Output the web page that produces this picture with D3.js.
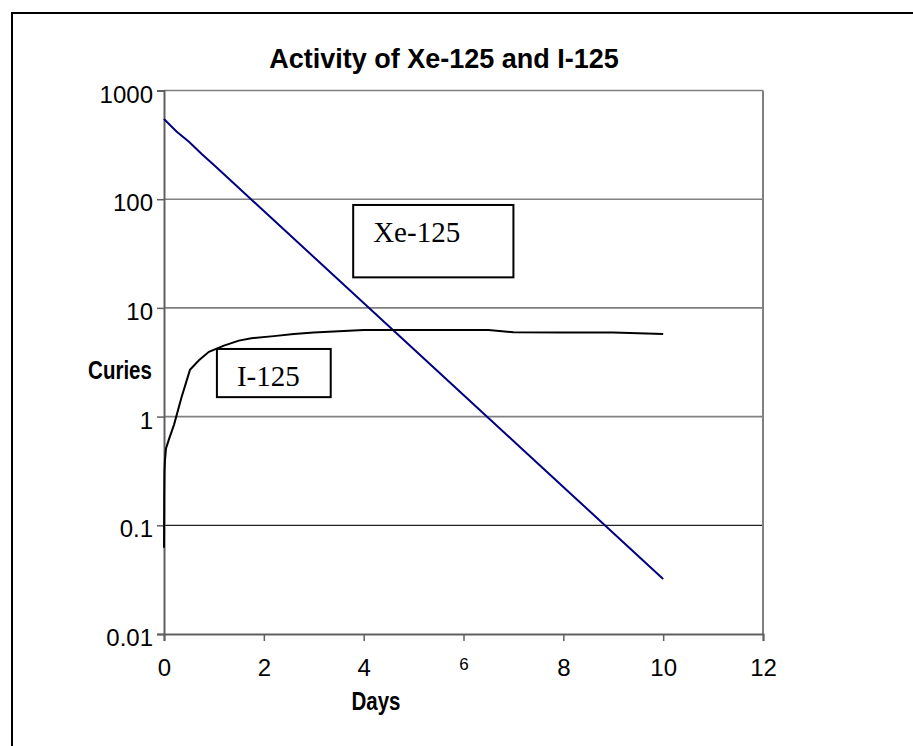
<!DOCTYPE html>
<html>
<head>
<meta charset="utf-8">
<script src="https://cdn.jsdelivr.net/npm/d3@7"></script>
<style>
  body { margin: 0; background: #fff; }
  svg { display: block; }
</style>
</head>
<body>
<div id="chart"></div>
<script>
// data
const xeDays   = [0, 0.25, 0.5, 0.75, 1, 1.5, 2, 3, 4, 5, 6, 7, 8, 9, 10];
const xeCuries = [546, 420, 338, 262, 206, 127, 77.8, 29.4, 11.1, 4.19, 1.58, 0.597, 0.225, 0.0851, 0.0321];

const iDays   = [0, 0.005, 0.01, 0.02, 0.04, 0.1, 0.2, 0.35, 0.52, 0.7, 0.9, 1.2, 1.5, 1.75, 2.2, 2.6, 3, 3.5, 4, 5, 6, 6.5, 7, 8, 9, 10];
const iCuries = [0.062, 0.2, 0.32, 0.4, 0.51, 0.62, 0.84, 1.5, 2.69, 3.3, 3.95, 4.5, 5.0, 5.25, 5.5, 5.75, 5.95, 6.1, 6.25, 6.25, 6.25, 6.27, 5.97, 5.95, 5.95, 5.75];

const xTicks = [0, 2, 4, 6, 8, 10, 12];
const yTicks = [0.01, 0.1, 1, 10, 100, 1000];

// label boxes, in data units [x0, x1, yTop, yBottom]
const xeBox = [3.79, 7.0, 88.5, 19.1];
const iBox  = [1.06, 3.34, 4.19, 1.51];

const W = 913, H = 746;

let svg = d3.select("#chart").append("svg")
    .attr("width", W)
    .attr("height", H)
    .style("font-family", "'Liberation Sans', Arial, sans-serif");

// outer frame (only top and left edges show)
svg.append("path")
    .attr("d", `M12,${H}V13H${W}`)
    .attr("fill", "none")
    .attr("stroke", "#000")
    .attr("stroke-width", 2);

let x = d3.scaleLinear().domain([0, 12]).range([164, 763]);
let y = d3.scaleLog().domain([0.01, 1000]).range([634, 90.5]);

// gridlines
svg.append("g").selectAll("line")
    .data(yTicks.slice(1))
    .join("line")
    .attr("x1", x(0)).attr("x2", x(12))
    .attr("y1", d => y(d)).attr("y2", d => y(d))
    .attr("stroke", d => d === 0.1 ? "#222" : "#808080")
    .attr("stroke-width", d => d === 0.1 ? 1.2 : 1.6);

// right border of plot
svg.append("line")
    .attr("x1", x(12)).attr("x2", x(12))
    .attr("y1", y(1000)).attr("y2", y(0.01))
    .attr("stroke", "#808080").attr("stroke-width", 2);

// axes
let yAxis = svg.append("g")
    .attr("transform", `translate(${x(0)},0)`)
    .call(d3.axisLeft(y).tickValues(yTicks).tickFormat(d => String(d)).tickSize(7).tickPadding(4));
let xAxis = svg.append("g")
    .attr("transform", `translate(0,${y(0.01)})`)
    .call(d3.axisBottom(x).tickValues(xTicks).tickSize(7).tickPadding(15));

[yAxis, xAxis].forEach(a => {
    a.select(".domain").attr("stroke", "#606060").attr("stroke-width", 2);
    a.selectAll(".tick line").attr("stroke", "#606060").attr("stroke-width", 1.5);
    a.selectAll("text")
        .attr("fill", "#000")
        .style("font-family", "'Liberation Sans', Arial, sans-serif")
        .style("font-size", "24px");
});
yAxis.selectAll(".tick text").attr("dy", "0.48em");
xAxis.selectAll(".tick text").attr("dy", "0.82em");
// the "6" label is smaller and sits higher in the original
xAxis.selectAll(".tick text").filter(d => d === 6)
    .style("font-size", "17px")
    .attr("dy", "0.85em");

// series
let line = d3.line().x(d => x(d[0])).y(d => y(d[1]));

svg.append("path")
    .datum(d3.zip(xeDays, xeCuries))
    .attr("d", line)
    .attr("fill", "none")
    .attr("stroke", "#000080")
    .attr("stroke-width", 2);

svg.append("path")
    .datum(d3.zip(iDays, iCuries))
    .attr("d", line)
    .attr("fill", "none")
    .attr("stroke", "#000")
    .attr("stroke-width", 2);

// label boxes
function labelBox(b) {
    let g = svg.append("g");
    g.append("rect")
        .attr("x", x(b[0])).attr("y", y(b[2]))
        .attr("width", x(b[1]) - x(b[0]))
        .attr("height", y(b[3]) - y(b[2]))
        .attr("fill", "#fff")
        .attr("stroke", "#000")
        .attr("stroke-width", 2);
    return g;
}
labelBox(xeBox).append("text")
    .attr("x", x(xeBox[0]) + 20)
    .attr("y", y(xeBox[2]) + 37)
    .style("font-family", "'Liberation Serif', 'Times New Roman', serif")
    .style("font-size", "29px")
    .text("Xe-125");
labelBox(iBox).append("text")
    .attr("x", x(iBox[0]) + 20)
    .attr("y", y(iBox[2]) + 37)
    .style("font-family", "'Liberation Serif', 'Times New Roman', serif")
    .style("font-size", "29px")
    .text("I-125");

// titles
svg.append("text")
    .attr("x", 444).attr("y", 68)
    .attr("text-anchor", "middle")
    .style("font-weight", "bold")
    .style("font-size", "27px")
    .text("Activity of Xe-125 and I-125");

// axis titles look slightly condensed in the original
svg.append("text")
    .attr("transform", "translate(120,379) scale(0.82,1)")
    .attr("text-anchor", "middle")
    .style("font-weight", "bold")
    .style("font-size", "25px")
    .text("Curies");

svg.append("text")
    .attr("transform", "translate(376,710) scale(0.82,1)")
    .attr("text-anchor", "middle")
    .style("font-weight", "bold")
    .style("font-size", "25px")
    .text("Days");
</script>
</body>
</html>
